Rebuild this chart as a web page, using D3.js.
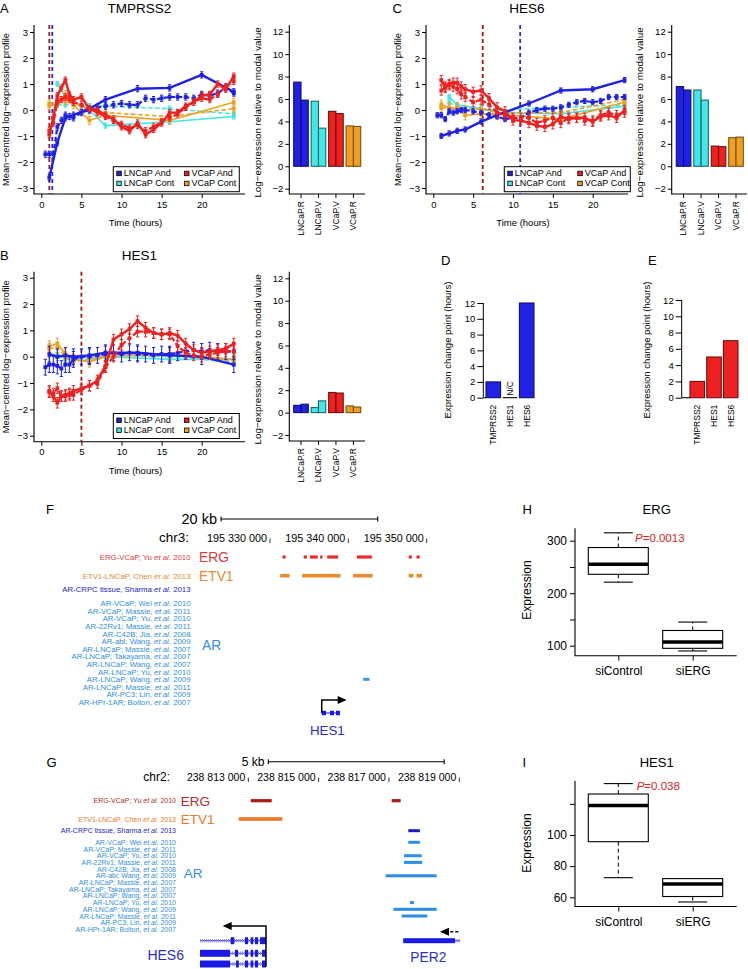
<!DOCTYPE html>
<html><head><meta charset="utf-8">
<script src="https://cdn.jsdelivr.net/npm/d3@7"></script>
<style>body{margin:0;background:#fff}svg{display:block}</style>
</head><body><svg id="fig" width="748" height="969"></svg>
<script>
// ================= DATA =================
const seriesNames = ["LNCaP And","VCaP And","LNCaP Cont","VCaP Cont"];
const timesLNCaPAnd1 = [1,2,3,4,6,8,12,16,20,24];
const timesLNCaPAnd2 = [0.5,1,1.5,2,2.5,3,3.5,4,5,6,7,8,9,10,11,12,13,14,15,16,17,18,19,20,21,22,23,24];
const timesVCaPAnd = [1,1.5,2,2.5,3,3.5,4,5,6,7,8,9,10,11,12,13,14,15,16,17,18,19,20,21,22,23,24];
const timesLNCaPCont = [2,3,6,8,16,24];
const timesVCaPCont = [1,2,3,4,6,8,16,24];
const timeTicks = [0,5,10,15,20];
const profileTicks = [-3,-2,-1,0,1,2,3];

// TMPRSS2 (A)
const tmprss2_LNCaPAnd1 = [-2.6,-1.25,-0.3,-0.2,0.05,0.4,0.82,0.85,1.35,0.7];
const tmprss2_LNCaPAnd2 = [-1.7,-1.7,-1.7,-0.65,-0.4,-0.2,-0.25,-0.3,-0.1,0.0,0.1,0.15,0.2,0.25,0.2,0.2,0.45,0.4,0.45,0.5,0.5,0.5,0.45,0.6,0.55,0.65,0.85,0.65];
const tmprss2_VCaPAnd1 = [-0.95,-0.3,0.55,0.85,1.15,0.6,0.4,0.5,0.05,0.0,-0.2,-0.35,-0.65,-0.8,-0.5,-0.95,-0.75,-0.5,-0.1,-0.1,0.15,0.3,0.55,0.6,1.0,0.8,1.3];
const tmprss2_VCaPAnd2 = [-0.8,-0.5,0.3,0.4,0.5,0.4,0.3,0.2,0.05,-0.1,-0.25,-0.4,-0.55,-0.7,-0.6,-0.8,-0.65,-0.45,-0.3,-0.15,0.1,0.3,0.45,0.4,0.6,0.9,1.1];
const tmprss2_LNCaPCont1 = [1.0,0.5,0.0,-0.6,-0.45,-0.25];
const tmprss2_LNCaPCont2 = [0.2,0.2,0.15,0.15,0.05,-0.15];
const tmprss2_VCaPCont1 = [0.15,0.25,0.6,0.2,-0.4,-0.2,-0.4,0.3];
const tmprss2_VCaPCont2 = [0.25,0.3,0.35,0.3,0.0,-0.1,-0.25,0.05];
const tmprss2_err = [0.12,0.12,0.1,0.15];
const tmprss2_change = [1.0,1.37]; // VCaP, LNCaP

// HES6 (C)
const hes6_LNCaPAnd1 = [-1.0,-0.9,-0.8,-0.75,-0.45,-0.2,0.25,0.75,0.8,1.15];
const hes6_LNCaPAnd2 = [-0.2,-0.2,-0.35,-0.05,-0.1,-0.05,0.0,0.0,-0.05,-0.1,-0.2,-0.25,-0.35,-0.3,-0.3,-0.1,0.0,0.05,0.05,0.1,0.2,0.3,0.35,0.3,0.35,0.5,0.5,0.5];
const hes6_VCaPAnd1 = [1.15,0.9,1.0,1.05,1.05,0.9,0.8,0.7,0.75,0.45,0.1,-0.05,-0.4,-0.4,-0.5,-0.6,-0.65,-0.55,-0.25,-0.35,-0.3,-0.3,-0.45,-0.25,-0.2,-0.3,0.0];
const hes6_VCaPAnd2 = [0.75,0.85,0.95,0.9,0.8,0.6,0.5,0.3,0.4,0.2,-0.1,-0.2,-0.3,-0.3,-0.3,-0.5,-0.4,-0.3,-0.5,-0.3,-0.3,-0.4,-0.4,-0.2,-0.1,-0.2,-0.1];
const hes6_LNCaPCont1 = [0.5,0.2,0.05,-0.1,-0.15,0.15];
const hes6_LNCaPCont2 = [0.3,0.1,0.05,0.0,0.1,0.2];
const hes6_VCaPCont1 = [0.2,0.1,0.05,-0.2,-0.15,-0.15,-0.35,0.3];
const hes6_VCaPCont2 = [0.1,0.05,0.1,0.0,0.05,-0.1,-0.1,0.4];
const hes6_err = [0.1,0.18,0.1,0.18];
const hes6_change = [6.2,10.9];

// HES1 (B)
const hes1_LNCaPAnd1 = [0.1,0.0,0.05,0.0,0.05,0.15,0.15,0.05,0.0,-0.3];
const hes1_LNCaPAnd2 = [-0.4,-0.3,-0.3,-0.35,-0.45,-0.3,-0.3,-0.1,0.0,0.0,0.05,0.1,0.15,0.1,0.15,0.1,0.1,0.05,0.1,0.1,0.15,0.2,0.25,0.2,0.25,0.2,0.2,0.2];
const hes1_VCaPAnd1 = [-1.3,-1.5,-1.75,-1.5,-1.45,-1.4,-1.3,-1.2,-1.1,-0.9,-0.35,0.65,0.85,1.05,1.35,1.1,0.9,0.85,0.9,0.8,0.5,0.25,0.15,0.2,0.25,0.3,0.5];
const hes1_VCaPAnd2 = [-1.35,-1.4,-1.2,-1.5,-1.5,-1.45,-1.45,-1.25,-1.1,-1.0,-0.4,0.0,0.45,0.7,0.95,0.95,0.9,0.85,0.85,0.4,0.15,0.05,0.0,0.1,0.15,0.2,0.2];
const hes1_LNCaPCont1 = [0.1,-0.1,-0.15,0.0,-0.1,-0.1];
const hes1_LNCaPCont2 = [0.0,0.0,-0.05,0.05,0.0,-0.2];
const hes1_VCaPCont1 = [0.4,0.5,0.1,-0.1,-0.2,0.0,0.1,-0.1];
const hes1_VCaPCont2 = [0.3,0.35,0.0,-0.2,-0.1,0.05,0.05,-0.15];
const hes1_err = [0.3,0.2,0.15,0.2];
const hes1_change = [5.0];

// modal-value bar charts
const modalGroups = ["LNCaP.R","LNCaP.V","VCaP.V","VCaP.R"];
const modalTicks = [-2,0,2,4,6,8,10,12];
const tmprss2Modal1 = [7.5,5.8,4.9,3.6];
const tmprss2Modal2 = [5.9,3.4,4.7,3.55];
const hes6Modal1 = [7.1,6.8,1.8,2.55];
const hes6Modal2 = [6.8,5.9,1.75,2.6];
const hes1Modal1 = [0.65,0.45,1.8,0.6];
const hes1Modal2 = [0.75,1.05,1.75,0.5];

// change points (D, E)
const changeGenes = ["TMPRSS2","HES1","HES6"];
const changeTicks = [0,2,4,6,8,10,12];
const lncapChange = [2,null,12];
const vcapChange = [2,5,7];

// box plots (H, I)
const boxGroups = ["siControl","siERG"];
const ergTicks = [100,150,200,250,300];
const ergLabels = [100,200,300];
const ergLow = [221,90], ergQ1 = [236,95], ergMed = [255,107], ergQ3 = [287,129], ergHigh = [315,145];
const ergP = "0.0013";
const hes1BoxTicks = [60,80,100,120];
const hes1BoxLabels = [60,80,100];
const hes1Low = [72.6,57], hes1Q1 = [95.7,60.5], hes1Med = [119,68.5], hes1Q3 = [126.3,72], hes1High = [133,72];
const hes1P = "0.038";

// genome tracks F (chr3) and G (chr2)
const chrF = "chr3:", chrG = "chr2:";
const coordTicksF = [195330000,195340000,195350000];
const coordTicksG = [238813000,238815000,238817000,238819000];
const scaleBarF = [195323750,195343750], scaleBarFLabel = "20 kb";
const scaleBarG = [238813570,238818570], scaleBarGLabel = "5 kb";
const trackLabelsF = ["ERG-VCaP, Yu |et al.| 2010","ETV1-LNCaP, Chen |et al.| 2013","AR-CRPC tissue, Sharma |et al.| 2013"];
const trackLabelsG = ["ERG-VCaP; Yu |et al.| 2010","ETV1-LNCaP; Chen |et al.| 2013","AR-CRPC tissue, Sharma |et al.| 2013"];
const arLabels = ["AR-VCaP; Wei |et al.| 2010","AR-VCaP; Massie, |et al.| 2011","AR-VCaP; Yu, |et al.| 2010","AR-22Rv1; Massie, |et al.| 2011","AR-C42B; Jia, |et al.| 2008","AR-abl; Wang, |et al.| 2009","AR-LNCaP; Massie, |et al.| 2007","AR-LNCaP; Takayama, |et al.| 2007","AR-LNCaP; Wang, |et al.| 2007","AR-LNCaP; Yu, |et al.| 2010","AR-LNCaP; Wang, |et al.| 2009","AR-LNCaP; Massie, |et al.| 2011","AR-PC3; Lin, |et al.| 2009","AR-HPr-1AR; Bolton, |et al.| 2007"];
const ergPeaksF = [[195331600,195332000],[195334300,195334700],[195335100,195336100],[195336400,195336700],[195337300,195338700],[195341100,195343000],[195347700,195348100],[195348700,195349100]];
const etv1PeaksF = [[195331300,195332500],[195334100,195339000],[195340600,195343100],[195347700,195348300],[195348700,195349400]];
const arPeakRowsF = [10];
const arPeaksF = [[195341900,195342700]];
const ergPeaksG = [[238813070,238813665],[238817077,238817333]];
const etv1PeaksG = [[238812727,238813967]];
const crpcPeaksG = [[238817550,238817880]];
const arPeakRowsG = [0,2,3,5,9,10,11];
const arPeaksG = [[238817550,238817880],[238817427,238817930],[238817427,238817947],[238816907,238818357],[238817598,238817711],[238817123,238818357],[238817362,238818090]];
const hes1Span = [195336600,195338930];
const hes1Exons = [[195336600,195337150],[195337660,195338170],[195338420,195338930]];
const hes1ArrowTip = 195339790;
const hes6Span = [238811627,238813503];
const hes6Tx1Exons = [[238812500,238812602],[238812906,238812991],[238813068,238813142],[238813191,238813276],[238813333,238813503]];
const hes6Tx2Exons = [[238811627,238812480],[238812622,238812707],[238812906,238812991],[238813068,238813142],[238813191,238813276],[238813390,238813503]];
const hes6Tx3Exons = [[238811627,238812480],[238812650,238812730],[238812906,238812991],[238813068,238813142],[238813191,238813276],[238813390,238813503]];
const hes6ArrowTip = 238812272;
const per2Span = [238817407,238819019];
const per2Exons = [[238817407,238818877]];
const per2ArrowTail = 238818971, per2ArrowTip = 238818451;

// ================= DRAWING =================
const FONT = '"Liberation Sans", Arial, Helvetica, sans-serif';
const svg = d3.select("#fig").attr("font-family", FONT);
const C = {ln:"#2020e6", vc:"#ee2020", lnc:"#44e6e6", vcc:"#f0a020"};
const STROKE = {ln:"#10106a", vc:"#701010", lnc:"#1a6a6a", vcc:"#7a5010"};
const fmtNeg = d => d < 0 ? "\u2212" + Math.abs(d) : String(d);

function styleAxis(sel, fs) {
  sel.select(".domain").remove();
  sel.attr("font-family", FONT);
  sel.selectAll("text").attr("font-size", fs || 9.5).attr("fill", "#000");
  sel.selectAll("line").attr("stroke", "#000");
}
function txt(x, y, s, o) {
  o = o || {};
  const t = svg.append("text").attr("x", x).attr("y", y).text(s)
    .attr("font-size", o.size || 10).attr("fill", o.color || "#000")
    .attr("text-anchor", o.anchor || "start");
  if (o.rotate) t.attr("x", null).attr("y", null).attr("transform", `translate(${x},${y}) rotate(-90)`);
  if (o.style) t.attr("font-style", o.style);
  return t;
}

function tsPanel(p) {
  const g = svg.append("g");
  const x = d3.scaleLinear().domain([0, 20]).range([p.x0, p.x20]);
  const y = d3.scaleLinear().domain([-3, 3]).range([p.yLo, p.yHi]);
  g.append("path").attr("d", `M${p.left},${p.top}V${p.bottom}H${p.right}`)
    .attr("fill", "none").attr("stroke", "#000").attr("stroke-width", 1.1);
  g.append("g").attr("transform", `translate(${p.left},0)`)
    .call(d3.axisLeft(y).tickValues(profileTicks).tickSize(4).tickPadding(2).tickFormat(fmtNeg))
    .call(s => styleAxis(s));
  g.append("g").attr("transform", `translate(0,${p.bottom})`)
    .call(d3.axisBottom(x).tickValues(timeTicks).tickSize(4).tickPadding(3))
    .call(s => styleAxis(s));
  p.vlines.forEach(v => g.append("line").attr("x1", x(v.t)).attr("x2", x(v.t))
    .attr("y1", p.top).attr("y2", p.bottom).attr("stroke", v.color)
    .attr("stroke-width", 1.8).attr("stroke-dasharray", "4,3"));
  p.series.forEach(s => {
    const pts = s.t.map((t, i) => ({t, v: s.v[i]}));
    g.append("path").datum(pts).attr("d", d3.line().x(d => x(d.t)).y(d => y(d.v)))
      .attr("fill", "none").attr("stroke", s.color).attr("stroke-width", s.w)
      .attr("stroke-dasharray", s.dash ? "4.5,2.5" : null);
    g.append("g").selectAll("path").data(pts).join("path")
      .attr("d", d => { const xx = x(d.t), y1 = y(d.v - s.err), y2 = y(d.v + s.err);
        return `M${xx},${y1}V${y2}M${xx-1.6},${y1}h3.2M${xx-1.6},${y2}h3.2`; })
      .attr("stroke", s.color).attr("stroke-width", 1).attr("fill", "none");
    g.append("g").selectAll("rect").data(pts).join("rect")
      .attr("x", d => x(d.t) - 1.9).attr("y", d => y(d.v) - 1.9)
      .attr("width", 3.8).attr("height", 3.8).attr("fill", s.color);
  });
  // legend
  const L = p.legend;
  g.append("rect").attr("x", L.x).attr("y", L.y).attr("width", L.w).attr("height", 25)
    .attr("fill", "#fff").attr("stroke", "#000").attr("stroke-width", 1);
  const lc = [C.ln, C.vc, C.lnc, C.vcc];
  seriesNames.forEach((n, i) => {
    const cx = L.x + 3.5 + (i % 2) * L.col, cy = L.y + 4.5 + Math.floor(i / 2) * 10;
    g.append("rect").attr("x", cx).attr("y", cy).attr("width", 4.5).attr("height", 4.5)
      .attr("fill", lc[i]).attr("stroke", "#000").attr("stroke-width", 0.8);
    g.append("text").attr("x", cx + 7).attr("y", cy + 5).attr("font-size", 9).text(n);
  });
  txt((p.left + p.right) / 2, p.top - 12, p.title, {size: 13.5, anchor: "middle"});
  txt(p.letterX, p.top - 12, p.letter, {size: 13});
  txt((p.left + p.right) / 2 - 4, p.bottom + 32, "Time (hours)", {size: 9.5, anchor: "middle"});
  txt(p.left - 25.5, (p.top + p.bottom) / 2, "Mean\u2212centred log\u2212expression profile", {size: 9.3, anchor: "middle", rotate: true});
}

function mkSeries(d, err) {
  return [
    {t: timesLNCaPCont, v: d[4], color: C.lnc, w: 1.6, err: err[2]},
    {t: timesLNCaPCont, v: d[5], color: C.lnc, w: 1.6, dash: true, err: err[2]},
    {t: timesVCaPCont, v: d[6], color: C.vcc, w: 1.6, err: err[3]},
    {t: timesVCaPCont, v: d[7], color: C.vcc, w: 1.6, dash: true, err: err[3]},
    {t: timesLNCaPAnd1, v: d[0], color: C.ln, w: 2.4, err: err[0]},
    {t: timesLNCaPAnd2, v: d[1], color: C.ln, w: 2.2, dash: true, err: err[0]},
    {t: timesVCaPAnd, v: d[2], color: C.vc, w: 2.4, err: err[1]},
    {t: timesVCaPAnd, v: d[3], color: C.vc, w: 2.2, dash: true, err: err[1]}
  ];
}

tsPanel({x0: 41.3, x20: 201.7, yLo: 188, yHi: 32, left: 34, right: 245, top: 25, bottom: 194,
  title: "TMPRSS2", letter: "A", letterX: 0,
  vlines: [{t: tmprss2_change[0], color: "#a01818"}, {t: tmprss2_change[1], color: "#2a2ad0"}],
  legend: {x: 113.3, y: 166.7, w: 126, col: 67.7},
  series: mkSeries([tmprss2_LNCaPAnd1, tmprss2_LNCaPAnd2, tmprss2_VCaPAnd1, tmprss2_VCaPAnd2, tmprss2_LNCaPCont1, tmprss2_LNCaPCont2, tmprss2_VCaPCont1, tmprss2_VCaPCont2], tmprss2_err)});

tsPanel({x0: 433.3, x20: 592.7, yLo: 188, yHi: 32, left: 426, right: 628, top: 25, bottom: 194,
  title: "HES6", letter: "C", letterX: 392.5,
  vlines: [{t: hes6_change[0], color: "#a01818"}, {t: hes6_change[1], color: "#2a2ad0"}],
  legend: {x: 504.3, y: 166.7, w: 126, col: 70},
  series: mkSeries([hes6_LNCaPAnd1, hes6_LNCaPAnd2, hes6_VCaPAnd1, hes6_VCaPAnd2, hes6_LNCaPCont1, hes6_LNCaPCont2, hes6_VCaPCont1, hes6_VCaPCont2], hes6_err)});

tsPanel({x0: 41.3, x20: 201.7, yLo: 435.7, yHi: 277.7, left: 34, right: 245, top: 271.7, bottom: 441.7,
  title: "HES1", letter: "B", letterX: 0,
  vlines: [{t: hes1_change[0], color: "#a01818"}],
  legend: {x: 113.3, y: 413.5, w: 126, col: 67.7},
  series: mkSeries([hes1_LNCaPAnd1, hes1_LNCaPAnd2, hes1_VCaPAnd1, hes1_VCaPAnd2, hes1_LNCaPCont1, hes1_LNCaPCont2, hes1_VCaPCont1, hes1_VCaPCont2], hes1_err)});

function modalPanel(p) {
  const g = svg.append("g");
  const y = d3.scaleLinear().domain([-2, 12]).range([p.yLo, p.yHi]);
  const xg = d3.scaleBand().domain(modalGroups).range([p.bx0, p.bx1]).paddingInner(0.165).paddingOuter(0);
  const xr = d3.scaleBand().domain([0, 1]).range([0, xg.bandwidth()]);
  g.append("path").attr("d", `M${p.left},${p.top}V${p.bottom}H${p.right}`)
    .attr("fill", "none").attr("stroke", "#000").attr("stroke-width", 1.1);
  g.append("g").attr("transform", `translate(${p.left},0)`)
    .call(d3.axisLeft(y).tickValues(modalTicks).tickSize(4).tickPadding(2).tickFormat(fmtNeg))
    .call(s => styleAxis(s));
  const fills = [C.ln, C.lnc, C.vc, C.vcc], strokes = [STROKE.ln, STROKE.lnc, STROKE.vc, STROKE.vcc];
  [p.v1, p.v2].forEach((vals, r) => {
    g.append("g").selectAll("rect").data(modalGroups).join("rect")
      .attr("x", d => xg(d) + xr(r)).attr("width", xr.bandwidth())
      .attr("y", (d, i) => y(Math.max(0, vals[i]))).attr("height", (d, i) => Math.abs(y(0) - y(vals[i])))
      .attr("fill", (d, i) => fills[i]).attr("stroke", (d, i) => strokes[i]).attr("stroke-width", 1.1);
  });
  g.append("g").attr("transform", `translate(0,${p.bottom})`)
    .call(d3.axisBottom(xg).tickSize(4).tickPadding(3))
    .call(s => styleAxis(s, 8.5))
    .selectAll("text").attr("text-anchor", "end").attr("dy", "0.32em")
    .attr("transform", "rotate(-90)").attr("x", -7).attr("y", 0);
  txt(p.left - 28.5, (p.top + p.bottom) / 2 + 3, "Log\u2212expression relative to modal value", {size: 9.8, anchor: "middle", rotate: true});
}
modalPanel({yLo: 188.7, yHi: 31.7, left: 289.3, right: 365, top: 25, bottom: 194, bx0: 293.7, bx1: 360.7, v1: tmprss2Modal1, v2: tmprss2Modal2});
modalPanel({yLo: 188.7, yHi: 31.7, left: 671.7, right: 747, top: 25, bottom: 194, bx0: 676.3, bx1: 743.3, v1: hes6Modal1, v2: hes6Modal2});
modalPanel({yLo: 435, yHi: 278.3, left: 289.3, right: 365, top: 271.7, bottom: 441, bx0: 293.7, bx1: 360.7, v1: hes1Modal1, v2: hes1Modal2});

function changePanel(p) {
  const g = svg.append("g");
  const y = d3.scaleLinear().domain([0, 12]).range([p.y0, p.y12]);
  const x = d3.scaleBand().domain(changeGenes).range([p.bx0, p.bx1]).paddingInner(0.13).paddingOuter(0);
  g.append("line").attr("x1", p.left).attr("x2", p.left).attr("y1", p.y0).attr("y2", p.y12).attr("stroke", "#000");
  g.append("g").attr("transform", `translate(${p.left},0)`)
    .call(d3.axisLeft(y).tickValues(changeTicks).tickSize(6).tickPadding(2))
    .call(s => styleAxis(s));
  p.vals.forEach((v, i) => {
    const gn = changeGenes[i];
    if (v === null || v === 0) {
      g.append("line").attr("x1", x(gn)).attr("x2", x(gn) + x.bandwidth()).attr("y1", y(0)).attr("y2", y(0)).attr("stroke", "#000").attr("stroke-width", 1.1);
      if (v === null) txt(x(gn) + x.bandwidth() / 2 + 3, y(0) - 2, "N/C", {size: 8.5, rotate: true});
    } else {
      g.append("rect").attr("x", x(gn)).attr("width", x.bandwidth()).attr("y", y(v)).attr("height", y(0) - y(v))
        .attr("fill", p.fill).attr("stroke", p.stroke).attr("stroke-width", 1.1);
    }
    txt(x(gn) + x.bandwidth() / 2 + 3, y(0) + 7, gn, {size: 8.5, anchor: "end", rotate: true});
  });
  g.append("line").attr("x1", p.left).attr("x2", x(changeGenes[0])).attr("y1", y(0)).attr("y2", y(0)).attr("stroke", "#000").attr("stroke-width", 1.1);
  txt(p.left - 32, 350, "Expression change point (hours)", {size: 9.5, anchor: "middle", rotate: true});
  txt(p.letterX, 265, p.letter, {size: 13});
}
changePanel({y0: 397.7, y12: 303, left: 483.3, bx0: 486, bx1: 534, vals: lncapChange, fill: C.ln, stroke: STROKE.ln, letter: "D", letterX: 441});
changePanel({y0: 397.7, y12: 300, left: 681.7, bx0: 690, bx1: 738, vals: vcapChange, fill: C.vc, stroke: STROKE.vc, letter: "E", letterX: 648});

function boxPanel(p) {
  const g = svg.append("g");
  const y = d3.scaleLinear().domain(p.dom).range(p.rng);
  const x = d3.scalePoint().domain(boxGroups).range([618.3, 692.7]);
  g.append("path").attr("d", `M${p.left},${p.top}V${p.bottom}H${p.right}`)
    .attr("fill", "none").attr("stroke", "#000").attr("stroke-width", 1.1);
  g.append("g").attr("transform", `translate(${p.left},0)`)
    .call(d3.axisLeft(y).tickValues(p.ticks).tickSize(5).tickPadding(3).tickFormat(d => p.labels.includes(d) ? d : ""))
    .call(s => styleAxis(s, 12));
  g.append("g").attr("transform", `translate(0,${p.bottom})`)
    .call(d3.axisBottom(x).tickSize(5).tickPadding(6))
    .call(s => styleAxis(s, 12));
  boxGroups.forEach((gn, i) => {
    const cx = x(gn), hw = 30;
    g.append("line").attr("x1", cx).attr("x2", cx).attr("y1", y(p.q3[i])).attr("y2", y(p.hi[i])).attr("stroke", "#000").attr("stroke-dasharray", "4,3");
    g.append("line").attr("x1", cx).attr("x2", cx).attr("y1", y(p.q1[i])).attr("y2", y(p.lo[i])).attr("stroke", "#000").attr("stroke-dasharray", "4,3");
    [p.hi[i], p.lo[i]].forEach(v => { if (v !== p.q3[i]) g.append("line").attr("x1", cx - 14.5).attr("x2", cx + 14.5).attr("y1", y(v)).attr("y2", y(v)).attr("stroke", "#000").attr("stroke-width", 1.1); });
    g.append("rect").attr("x", cx - hw).attr("width", 2 * hw).attr("y", y(p.q3[i])).attr("height", y(p.q1[i]) - y(p.q3[i]))
      .attr("fill", "#fff").attr("stroke", "#000").attr("stroke-width", 1.1);
    g.append("line").attr("x1", cx - hw).attr("x2", cx + hw).attr("y1", y(p.med[i])).attr("y2", y(p.med[i])).attr("stroke", "#000").attr("stroke-width", 3.5);
  });
  const t = txt(p.px, p.py, "", {size: 11.5, color: "#e02020"});
  t.append("tspan").attr("font-style", "italic").text("P");
  t.append("tspan").text("=" + p.pval);
  txt(656.7, p.top - 14, p.title, {size: 13, anchor: "middle"});
  txt(522.5, p.top - 14, p.letter, {size: 13});
  txt(530.5, p.cy, "Expression", {size: 12, anchor: "middle", rotate: true});
}
boxPanel({dom: [100, 300], rng: [645.7, 540.7], ticks: ergTicks, labels: ergLabels, left: 575, right: 736.7, top: 528.3, bottom: 655.7,
  lo: ergLow, q1: ergQ1, med: ergMed, q3: ergQ3, hi: ergHigh, pval: ergP, px: 635, py: 542, title: "ERG", letter: "H", cy: 590});
boxPanel({dom: [60, 100], rng: [897.3, 835], ticks: hes1BoxTicks, labels: hes1BoxLabels, left: 575, right: 736.7, top: 781, bottom: 906.5,
  lo: hes1Low, q1: hes1Q1, med: hes1Med, q3: hes1Q3, hi: hes1High, pval: hes1P, px: 636.7, py: 790, title: "HES1", letter: "I", cy: 843});

// ---- genome browser panels ----
function labelWithItalic(x, y, s, size, color) {
  const parts = s.split("|");
  const t = svg.append("text").attr("x", x).attr("y", y).attr("text-anchor", "end")
    .attr("font-size", size).attr("fill", color);
  parts.forEach((pt, i) => t.append("tspan").attr("font-style", i === 1 ? "italic" : null).text(pt));
}
function peaks(sc, arr, yc, h, color) {
  svg.append("g").selectAll("rect").data(arr).join("rect")
    .attr("x", d => sc(d[0])).attr("width", d => Math.max(1.5, sc(d[1]) - sc(d[0])))
    .attr("y", yc - h / 2).attr("height", h).attr("fill", color);
}
function browser(p) {
  const sc = d3.scaleLinear().domain(p.dom).range(p.rng);
  txt(p.letterX, p.letterY, p.letter, {size: 13});
  const sy = p.barY;
  svg.append("path").attr("d", `M${sc(p.bar[0])},${sy}H${sc(p.bar[1])}M${sc(p.bar[0])},${sy-2.5}v5M${sc(p.bar[1])},${sy-2.5}v5`)
    .attr("stroke", "#000").attr("stroke-width", 1.1).attr("fill", "none");
  txt(sc(p.bar[0]) - 4, sy + 4.5, p.barLabel, {size: p.barSize, anchor: "end"});
  txt(p.chrX, p.coordY, p.chr, {size: p.chrSize, anchor: "end"});
  p.ticks.forEach(v => {
    txt(sc(v) - 3, p.coordY, d3.format(",")(v).replace(/,/g, " "), {size: p.coordSize, anchor: "end"});
    svg.append("line").attr("x1", sc(v)).attr("x2", sc(v)).attr("y1", p.coordY - 3).attr("y2", p.coordY + 1.5).attr("stroke", "#000").attr("stroke-width", 0.8);
  });
  const ys = p.rowY;
  p.labels.forEach((s, i) => labelWithItalic(p.labX, ys[i] + p.lab * 0.36, s, p.lab, p.labColors[i]));
  arLabels.forEach((s, i) => labelWithItalic(p.labX, p.ar0 + i * p.arStep + p.lab * 0.36, s, p.lab, p.arColor));
  txt(p.bigX, ys[0] + 5, "ERG", {size: p.big, color: p.labColors[0]});
  txt(p.bigX, ys[1] + 5, "ETV1", {size: p.big, color: p.etvBig});
  txt(p.bigX + 3, p.arBigY, "AR", {size: p.big, color: p.arColor});
  peaks(sc, p.erg, ys[0], 3.2, p.ergColor);
  peaks(sc, p.etv, ys[1], 3.6, p.etvBig);
  if (p.crpc) peaks(sc, p.crpc, ys[2], 3, "#1a1acc");
  p.arRows.forEach((r, i) => peaks(sc, [p.ar[i]], p.ar0 + r * p.arStep, 3, p.arPeak));
  return sc;
}
const GENE = "#1a1ae6", GENELAB = "#2d2dc8", AR_BLUE = "#2f8fe0";
const scF = browser({dom: [195330000, 195350000], rng: [270, 426.7], letter: "F", letterX: 46, letterY: 514,
  bar: scaleBarF, barLabel: scaleBarFLabel, barY: 519, barSize: 14.5,
  chr: chrF, chrX: 189, coordY: 541.5, chrSize: 13.5, coordSize: 10.8, ticks: coordTicksF,
  labels: trackLabelsF, labX: 190.5, rowY: [557, 575.7, 589], lab: 7.8,
  labColors: ["#e83838", "#e88a30", "#2424c8"], arColor: AR_BLUE, ar0: 603.3, arStep: 7.6,
  bigX: 199, big: 13.8, etvBig: "#ee8a2a", arBigY: 650,
  erg: ergPeaksF, ergColor: "#ee2a2a", etv: etv1PeaksF, arRows: arPeakRowsF, ar: arPeaksF, arPeak: "#3a9ae8"});
const scG = browser({dom: [238813000, 238819000], rng: [248.3, 459.3], letter: "G", letterX: 46.5, letterY: 766.5,
  bar: scaleBarG, barLabel: scaleBarGLabel, barY: 761.7, barSize: 12,
  chr: chrG, chrX: 170, coordY: 780.5, chrSize: 12, coordSize: 10.5, ticks: coordTicksG,
  labels: trackLabelsG, labX: 176, rowY: [800.7, 819, 830.7], lab: 7,
  labColors: ["#b82828", "#ec7a2a", "#2424c8"], arColor: AR_BLUE, ar0: 842.3, arStep: 6.7,
  bigX: 180.7, big: 13.5, etvBig: "#f07828", arBigY: 878,
  erg: ergPeaksG, ergColor: "#b01818", etv: etv1PeaksG, crpc: crpcPeaksG, arRows: arPeakRowsG, ar: arPeaksG, arPeak: "#2c8ee6"});

function gene(sc, span, exons, yc, h, hatch) {
  svg.append("line").attr("x1", sc(span[0])).attr("x2", sc(span[1])).attr("y1", yc).attr("y2", yc).attr("stroke", GENE).attr("stroke-width", 1);
  if (hatch) svg.append("line").attr("x1", sc(span[0])).attr("x2", sc(span[1])).attr("y1", yc).attr("y2", yc)
    .attr("stroke", "#8a8af2").attr("stroke-width", 3.5).attr("stroke-dasharray", "1,1");
  svg.append("g").selectAll("rect").data(exons).join("rect")
    .attr("x", d => sc(d[0])).attr("width", d => sc(d[1]) - sc(d[0])).attr("y", yc - h / 2).attr("height", h).attr("fill", GENE);
}
function arrow(x1, y1, xTip, yTop, dashed) {
  const dir = xTip > x1 ? 1 : -1;
  svg.append("path").attr("d", `M${x1},${y1}V${yTop}H${xTip - dir * 8}`).attr("fill", "none")
    .attr("stroke", "#000").attr("stroke-width", 1.5).attr("stroke-dasharray", dashed ? "3,2" : null);
  svg.append("path").attr("d", `M${xTip},${yTop}L${xTip - dir * 9},${yTop - 4}L${xTip - dir * 9},${yTop + 4}Z`).attr("fill", "#000");
}
gene(scF, hes1Span, hes1Exons, 713, 4.5, false);
arrow(scF(hes1Span[0]), 713, scF(hes1ArrowTip), 700, false);
txt(327.3, 735, "HES1", {size: 13.3, anchor: "middle", color: GENELAB});

gene(scG, hes6Span, hes6Tx1Exons, 940.7, 7, true);
gene(scG, hes6Span, hes6Tx2Exons, 953.3, 7, true);
gene(scG, hes6Span, hes6Tx3Exons, 964, 7, true);
arrow(scG(hes6Span[1]), 966.7, scG(hes6ArrowTip), 926, false);
txt(165.7, 960, "HES6", {size: 14, anchor: "middle", color: GENELAB});

gene(scG, per2Span, per2Exons, 940.7, 5, true);
arrow(scG(per2ArrowTail), 931.7, scG(per2ArrowTip), 931.7, true);
txt(428.3, 961.5, "PER2", {size: 13.8, anchor: "middle", color: GENELAB});
</script></body></html>
